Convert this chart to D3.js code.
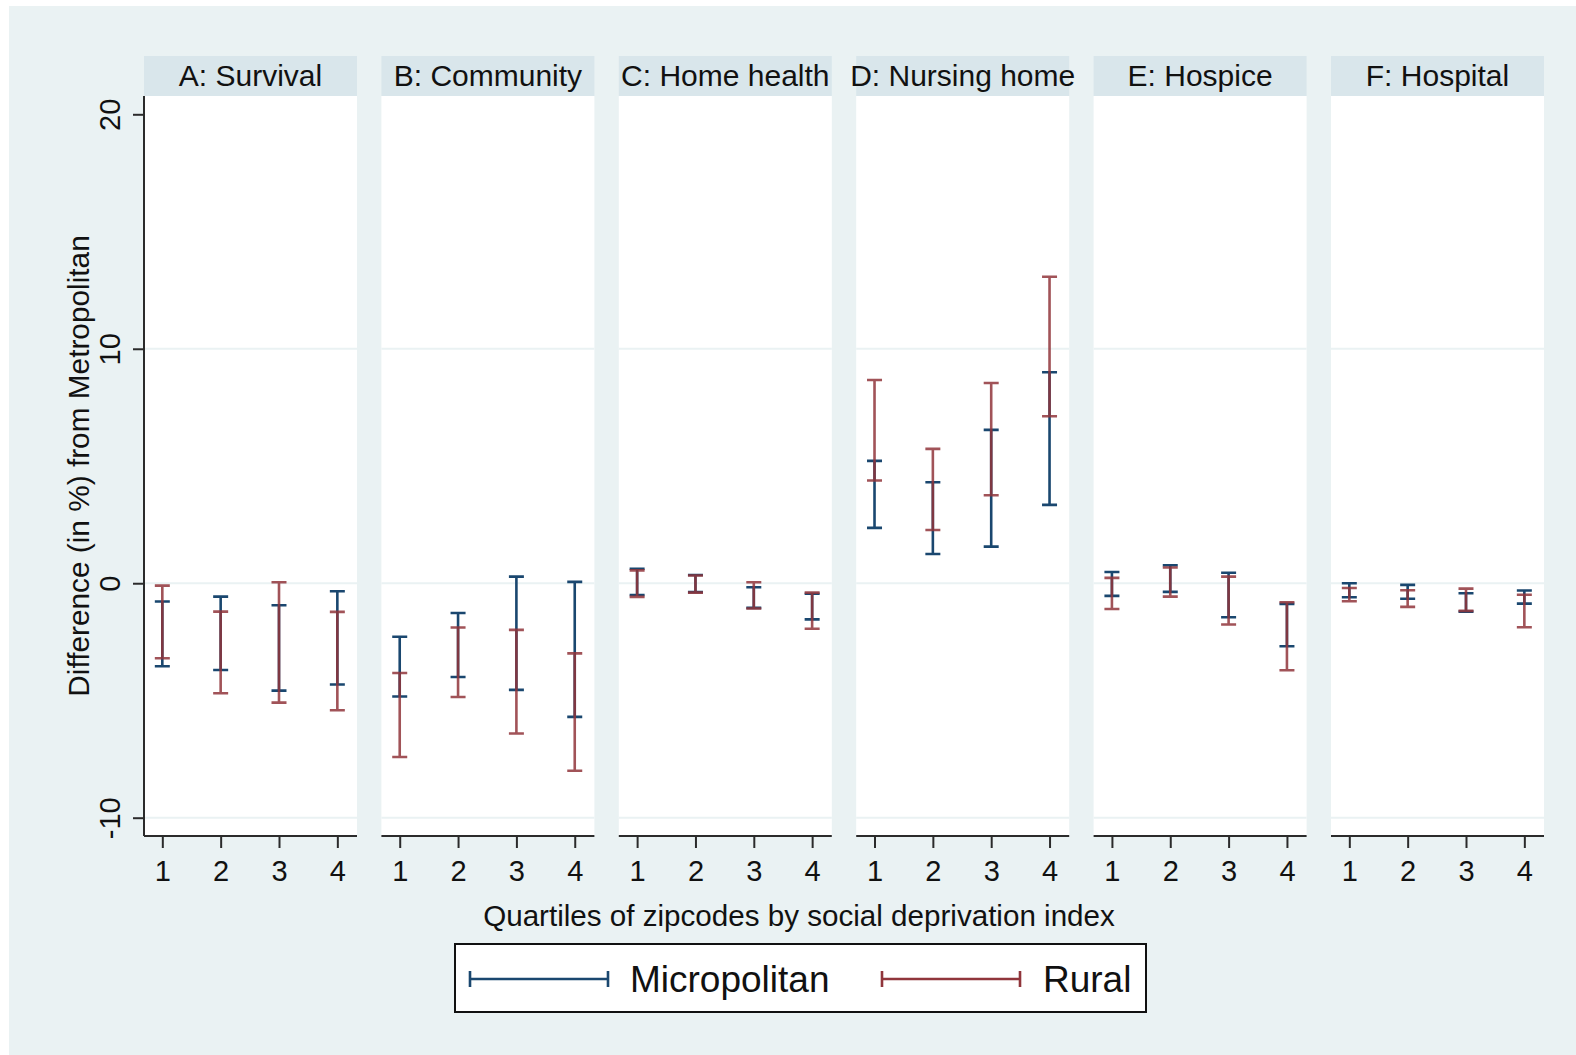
<!DOCTYPE html>
<html>
<head>
<meta charset="utf-8">
<script src="https://cdn.jsdelivr.net/npm/d3@7"></script>
<style>
  html, body { margin: 0; padding: 0; background: #ffffff; }
  svg { display: block; font-family: "Liberation Sans", Arial, sans-serif; }
</style>
</head>
<body>
<svg id="chart" width="1576" height="1055"></svg>
<script>
// Panel titles and quartile categories
const panels = ["A: Survival", "B: Community", "C: Home health", "D: Nursing home", "E: Hospice", "F: Hospital"];
const quartiles = [1, 2, 3, 4];
const yTicks = [-10, 0, 10, 20];
const gridValues = [-10, 0, 10];

// 95% confidence limits, difference (in %) from Metropolitan; one row per panel, one value per quartile
const microUpper = [
  [-0.78, -0.57, -0.94, -0.34],
  [-2.28, -1.27, 0.28, 0.06],
  [0.62, 0.35, -0.17, -0.45],
  [5.22, 4.31, 6.54, 9.00],
  [0.48, 0.77, 0.45, -0.88],
  [0.00, -0.07, -0.43, -0.31]
];
const microLower = [
  [-3.54, -3.70, -4.58, -4.32],
  [-4.83, -4.00, -4.55, -5.70],
  [-0.50, -0.38, -1.05, -1.54],
  [2.36, 1.25, 1.56, 3.34],
  [-0.54, -0.37, -1.45, -2.69],
  [-0.60, -0.66, -1.21, -0.87]
];
const ruralUpper = [
  [-0.10, -1.21, 0.04, -1.22],
  [-3.83, -1.89, -1.99, -2.99],
  [0.55, 0.33, 0.04, -0.40],
  [8.67, 5.73, 8.54, 13.07],
  [0.23, 0.67, 0.28, -0.81],
  [-0.20, -0.30, -0.23, -0.49]
];
const ruralLower = [
  [-3.20, -4.69, -5.09, -5.42],
  [-7.41, -4.85, -6.41, -8.00],
  [-0.58, -0.40, -1.08, -1.94],
  [4.38, 2.27, 3.75, 7.12],
  [-1.10, -0.57, -1.76, -3.71],
  [-0.77, -1.01, -1.18, -1.88]
];

const seriesNames = ["Micropolitan", "Rural"];

// Styling
const bgColor = "#eaf2f3";
const stripColor = "#d9e6eb";
const blue = "#1a476f";
const red = "#90353b";
const axisColor = "#2b2b2b";
const fontFamily = "Liberation Sans, Arial, sans-serif";

const svg = d3.select("#chart");

// Outer background
svg.append("rect").attr("x", 9).attr("y", 6).attr("width", 1576 - 9).attr("height", 1055 - 6).attr("fill", bgColor);

// Layout
const plotTop = 96, plotBottom = 836;
const panelLeft0 = 144, panelWidth = 213, panelPitch = 237.4;
const stripTop = 56;

const y = d3.scaleLinear().domain([-10.78, 20.78]).range([plotBottom, plotTop]);

const series = [
  { name: seriesNames[0], lo: microLower, hi: microUpper, color: blue, opacity: 1 },
  { name: seriesNames[1], lo: ruralLower, hi: ruralUpper, color: red, opacity: 0.85 }
];

const capHalf = 7.5;
const barWidth = 2.6;

panels.forEach((title, p) => {
  const x0 = panelLeft0 + p * panelPitch;
  const x = d3.scaleLinear().domain([0.686, 4.337]).range([x0, x0 + panelWidth]);
  const g = svg.append("g");

  // strip
  g.append("rect").attr("x", x0).attr("y", stripTop).attr("width", panelWidth).attr("height", plotTop - stripTop).attr("fill", stripColor);
  g.append("text").attr("x", x0 + panelWidth / 2).attr("y", (stripTop + plotTop) / 2 + 10)
    .attr("text-anchor", "middle").attr("font-size", 30).attr("fill", "#111").text(title);

  // plot region
  g.append("rect").attr("x", x0).attr("y", plotTop).attr("width", panelWidth).attr("height", plotBottom - plotTop).attr("fill", "#ffffff");

  // gridlines
  g.selectAll(".grid").data(gridValues).enter().append("line")
    .attr("x1", x0).attr("x2", x0 + panelWidth)
    .attr("y1", d => y(d)).attr("y2", d => y(d))
    .attr("stroke", bgColor).attr("stroke-width", 2);

  // error bars
  series.forEach(s => {
    const data = quartiles.map((q, i) => ({ q, lo: s.lo[p][i], hi: s.hi[p][i] }));
    const eg = g.append("g").attr("stroke", s.color).attr("stroke-width", barWidth).attr("stroke-opacity", s.opacity).attr("fill", "none");
    data.forEach(d => {
      const path = d3.path();
      path.moveTo(x(d.q), y(d.hi)); path.lineTo(x(d.q), y(d.lo));
      path.moveTo(x(d.q) - capHalf, y(d.hi)); path.lineTo(x(d.q) + capHalf, y(d.hi));
      path.moveTo(x(d.q) - capHalf, y(d.lo)); path.lineTo(x(d.q) + capHalf, y(d.lo));
      eg.append("path").attr("d", path.toString());
    });
  });

  // x axis
  const xAxis = d3.axisBottom(x).tickValues(quartiles).tickSize(12).tickPadding(12).tickFormat(d3.format("d"));
  const ax = g.append("g").attr("transform", `translate(0,${plotBottom})`).call(xAxis);
  ax.select(".domain").attr("d", `M${x0},0H${x0 + panelWidth}`).attr("stroke", axisColor).attr("stroke-width", 2);
  ax.selectAll(".tick line").attr("stroke", axisColor).attr("stroke-width", 2);
  ax.selectAll(".tick text").attr("font-size", 29).attr("fill", "#111").attr("font-family", fontFamily);

  // y axis only on the first panel
  if (p === 0) {
    const yAxis = d3.axisLeft(y).tickValues(yTicks).tickSize(11).tickPadding(0).tickFormat(d3.format("d"));
    const ay = g.append("g").attr("transform", `translate(${x0},0)`).call(yAxis);
    ay.select(".domain").attr("d", `M0,${plotTop}V${plotBottom}`).attr("stroke", axisColor).attr("stroke-width", 2);
    ay.selectAll(".tick line").attr("stroke", axisColor).attr("stroke-width", 2);
    ay.selectAll(".tick text").remove();
    ay.selectAll(".tick").append("text")
      .attr("transform", "translate(-24,0) rotate(-90)")
      .attr("text-anchor", "middle").attr("dy", "0")
      .attr("font-size", 29).attr("fill", "#111")
      .attr("font-family", fontFamily)
      .text(d => d);
  }
});

// Axis titles
svg.append("text").attr("transform", `translate(89,466) rotate(-90)`)
  .attr("text-anchor", "middle").attr("font-size", 29.8).attr("fill", "#111")
  .text("Difference (in %) from Metropolitan");

svg.append("text").attr("x", 799).attr("y", 926)
  .attr("text-anchor", "middle").attr("font-size", 29.6).attr("fill", "#111")
  .text("Quartiles of zipcodes by social deprivation index");

// Legend
const lg = svg.append("g");
lg.append("rect").attr("x", 455).attr("y", 944).attr("width", 691).attr("height", 68)
  .attr("fill", "#ffffff").attr("stroke", "#111").attr("stroke-width", 2);
const legendItems = [
  { name: seriesNames[0], color: blue, x1: 470, x2: 608, tx: 630 },
  { name: seriesNames[1], color: red, x1: 882, x2: 1020, tx: 1043 }
];
legendItems.forEach(it => {
  const ly = 979;
  const path = d3.path();
  path.moveTo(it.x1, ly); path.lineTo(it.x2, ly);
  path.moveTo(it.x1, ly - 8); path.lineTo(it.x1, ly + 8);
  path.moveTo(it.x2, ly - 8); path.lineTo(it.x2, ly + 8);
  lg.append("path").attr("d", path.toString()).attr("stroke", it.color).attr("stroke-width", 2.6).attr("fill", "none");
  lg.append("text").attr("x", it.tx).attr("y", ly + 13).attr("font-size", 37).attr("fill", "#111").text(it.name);
});
</script>
</body>
</html>
